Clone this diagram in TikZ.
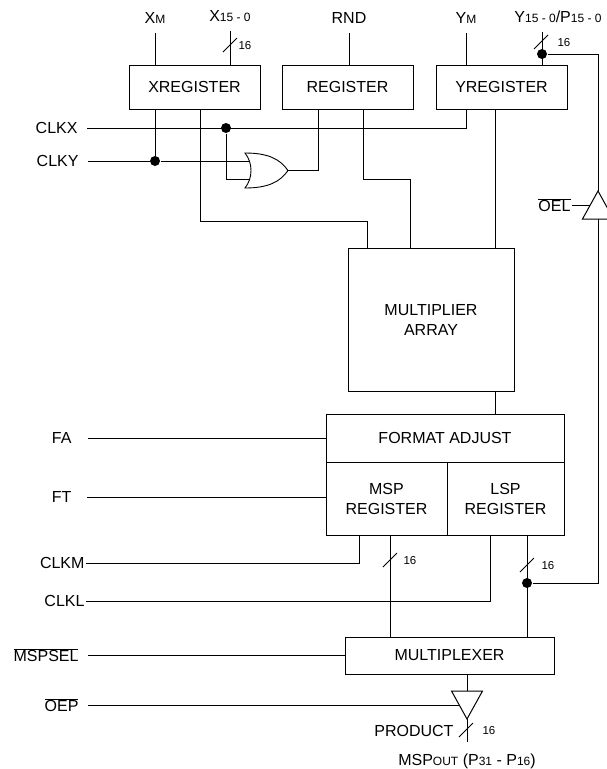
\documentclass[tikz,border=0pt]{standalone}
\usepackage{fontspec}
\setmainfont{Liberation Sans}
\usepackage{tikz}
\usetikzlibrary{positioning, calc, shapes.geometric}

\newcommand{\sm}[1]{{\fontsize{12}{13}\selectfont #1}}
\newcommand{\ovl}[1]{$\overline{\mbox{#1}}$}
\newcommand{\busw}[2]{%
  \draw[line width=0.8pt] ($(#1)+(-7,7)$) -- ($(#1)+(7,-7)$);
  \node[num] at ($(#1)+(#2,1)$) {16};}

\begin{document}
\begin{tikzpicture}[
  x=1pt, y=-1pt,
  line width=1pt,
  font=\fontsize{16}{20}\selectfont,
  label distance=9pt,
  block/.style={
    rectangle,
    draw,
    align=center,
    inner sep=0pt,
    outer sep=0pt,
  },
  reg/.style={block, minimum width=131pt, minimum height=44pt},
  lbl/.style={inner sep=0pt},
  num/.style={font=\fontsize{11.5}{12}\selectfont, inner sep=0pt, anchor=west},
  dot/.style={circle, fill, inner sep=0pt, minimum size=10pt},
  buffer/.style={
    isosceles triangle,
    isosceles triangle stretches,
    draw,
    inner sep=0pt,
    outer sep=0pt,
    minimum height=28pt,
    minimum width=31pt,
  },
]
\useasboundingbox (0,0) rectangle (607,769);

% ===== REGISTERS AND BLOCKS =====
\node[reg] (xreg) at (194.5,87) {XREGISTER};
\node[reg, right=22pt of xreg] (rreg) {REGISTER};
\node[reg, right=23pt of rreg] (yreg) {YREGISTER};

\node[block, minimum width=166pt, minimum height=143pt] (mult) at (431,319.5) {MULTIPLIER\\ARRAY};

\node[block, minimum width=238pt, minimum height=48pt] (fa) at (445,438) {FORMAT ADJUST};
\node[block, minimum width=121pt, minimum height=73pt, anchor=north west] (msp) at (fa.south west) {MSP\\REGISTER};
\node[block, minimum width=117pt, minimum height=73pt, anchor=north east] (lsp) at (fa.south east) {LSP\\REGISTER};

\node[block, minimum width=209pt, minimum height=37pt] (mux) at (449.5,655.5) {MULTIPLEXER};

% ===== INPUTS (TOP) =====
\coordinate[label={[lbl]above:X\sm{M}}] (xm) at (155,33);
\coordinate[label={[lbl]above:X\sm{15 - 0}}] (xin) at (230,31);
\coordinate[label={[lbl]above:RND}] (rnd) at (349,33);
\coordinate[label={[lbl]above:Y\sm{M}}] (ym) at (466,33);
\coordinate[label={[lbl, xshift=16pt]above:Y\sm{15 - 0}/P\sm{15 - 0}}] (yin) at (542,32);

\draw (xm) -- (xm |- xreg.north);
\draw (xin) -- (xin |- xreg.north);
\draw (rnd) -- (rnd |- rreg.north);
\draw (ym) -- (ym |- yreg.north);
\draw (yin) -- (yin |- yreg.north);
\busw{230,45}{8}
\busw{541,42}{16}

% ===== INPUTS (LEFT) =====
\coordinate[label={[lbl]left:CLKX}] (clkx) at (87,128);
\coordinate[label={[lbl]left:CLKY}] (clky) at (88,161);
\coordinate[label={[lbl, xshift=-7pt]left:FA}] (fain) at (88,438);
\coordinate[label={[lbl, xshift=-6pt]left:FT}] (ftin) at (87,497);
\coordinate[label={[lbl, xshift=8pt]left:CLKM}] (clkm) at (86,563);
\coordinate[label={[lbl, xshift=8pt]left:CLKL}] (clkl) at (86,601);
\coordinate[label={[lbl]left:\ovl{MSPSEL}}] (msel) at (88,655);
\coordinate[label={[lbl]left:\ovl{OEP}}] (oep) at (88,705);
\coordinate[label={[lbl, xshift=8pt]left:\ovl{OEL}}] (oel) at (572,205);

% ===== CLOCK LOGIC =====
\node[dot] (dx) at (226,128) {};
\node[dot] (dy) at (155,161) {};

% or gate
\draw[line width=0.9pt] (245,153) .. controls (268,153) and (280,159) .. (288,170.5)
  .. controls (280,182) and (268,188) .. (245,188)
  .. controls (253,178) and (253,163) .. (245,153) -- cycle;
\coordinate (gin1) at (250,161);
\coordinate (gin2) at (250,179);
\coordinate (gout) at (288,170.5);

\draw (clkx) -| (ym |- yreg.south);
\draw (clky) -- (dy);
\draw (dy) -- (gin1);
\draw (dy |- xreg.south) -- (dy);
\draw (dx) |- (gin2);
\draw (gout) -| ([xshift=-29.5pt]rreg.south);

% ===== INTO THE MULTIPLIER =====
\draw ([xshift=5.5pt]xreg.south) -- ++(0,112) -| ([xshift=-64pt]mult.north);
\draw ([xshift=15.5pt]rreg.south) -- ++(0,70) -| ([xshift=-21pt]mult.north);
\draw ([xshift=-6.5pt]yreg.south) -- ([xshift=-6.5pt]yreg.south |- mult.north);
\draw ([xshift=64pt]mult.south) -- ([xshift=64pt]mult.south |- fa.north);

% ===== FORMAT / REGISTERS =====
\draw (fain) -- (fain -| fa.west);
\draw (ftin) -- (ftin -| msp.west);
\draw (clkm) -| ([xshift=-27.5pt]msp.south);
\draw (clkl) -| ([xshift=-15.5pt]lsp.south);

\draw ([xshift=3.5pt]msp.south) -- ([xshift=3.5pt]msp.south |- mux.north);
\draw ([xshift=21.5pt]lsp.south) -- ([xshift=21.5pt]lsp.south |- mux.north);
\busw{390,560}{13}
\busw{527,565}{14}

% ===== FEEDBACK BUS =====
\node[dot] (dyb) at (542,54) {};
\node[dot] (dl) at (527,583) {};
\node[buffer, shape border rotate=90, anchor=apex] (bufl) at (598,191) {};
\draw (dyb) -| (bufl.apex);
\draw (bufl.lower side) |- (dl);
\draw (oel) -- (bufl.left side);

% ===== OUTPUT =====
\draw (msel) -- (msel -| mux.west);
\node[buffer, shape border rotate=270, anchor=lower side] (bufp) at (467,691) {};
\coordinate (pout) at (467,742);
\draw (mux.south -| bufp.lower side) -- (bufp.lower side);
\draw (bufp.apex) -- (pout);
\draw (oep) -- (bufp.right side);
\busw{466,730}{16}

\node[lbl, anchor=east] (prod) at (454,731) {PRODUCT};
\node[lbl] (mspout) at (467,761) {MSP\sm{OUT} (P\sm{31} - P\sm{16})};

\end{tikzpicture}
\end{document}
